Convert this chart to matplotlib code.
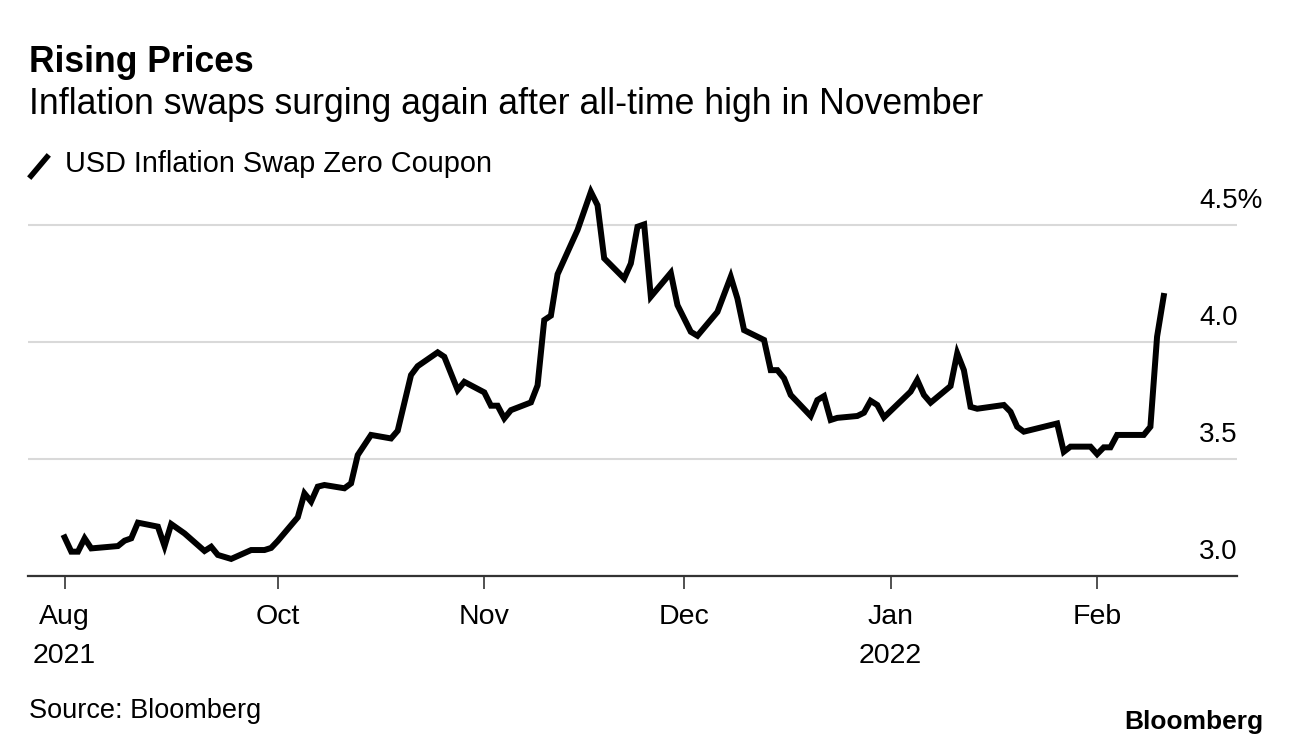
import matplotlib
matplotlib.use("Agg")
import matplotlib.pyplot as plt
from matplotlib.lines import Line2D
import pandas as pd

# USD inflation swap, zero coupon (%)
dates = [
    "2021-08-30", "2021-08-31",
    "2021-09-01", "2021-09-02", "2021-09-03", "2021-09-07", "2021-09-08",
    "2021-09-09", "2021-09-10", "2021-09-13", "2021-09-14", "2021-09-15",
    "2021-09-17", "2021-09-20", "2021-09-21", "2021-09-22", "2021-09-24",
    "2021-09-27", "2021-09-29", "2021-09-30",
    "2021-10-01", "2021-10-04", "2021-10-05", "2021-10-06", "2021-10-07",
    "2021-10-08", "2021-10-11", "2021-10-12", "2021-10-13", "2021-10-15",
    "2021-10-18", "2021-10-19", "2021-10-21", "2021-10-22", "2021-10-25",
    "2021-10-26", "2021-10-28", "2021-10-29",
    "2021-11-01", "2021-11-02", "2021-11-03", "2021-11-04", "2021-11-05",
    "2021-11-08", "2021-11-09", "2021-11-10", "2021-11-11", "2021-11-12",
    "2021-11-15", "2021-11-17", "2021-11-18", "2021-11-19", "2021-11-22",
    "2021-11-23", "2021-11-24", "2021-11-25", "2021-11-26", "2021-11-29",
    "2021-11-30",
    "2021-12-02", "2021-12-03", "2021-12-06", "2021-12-08", "2021-12-09",
    "2021-12-10", "2021-12-13", "2021-12-14", "2021-12-15", "2021-12-16",
    "2021-12-17", "2021-12-20", "2021-12-21", "2021-12-22", "2021-12-23",
    "2021-12-24", "2021-12-27", "2021-12-28", "2021-12-29", "2021-12-30",
    "2021-12-31",
    "2022-01-04", "2022-01-05", "2022-01-06", "2022-01-07", "2022-01-10",
    "2022-01-11", "2022-01-12", "2022-01-13", "2022-01-14", "2022-01-18",
    "2022-01-19", "2022-01-20", "2022-01-21", "2022-01-26", "2022-01-27",
    "2022-01-28", "2022-01-31",
    "2022-02-01", "2022-02-02", "2022-02-03", "2022-02-04", "2022-02-08",
    "2022-02-09", "2022-02-10", "2022-02-11",
]
values = [
    3.165, 3.104,
    3.104, 3.161, 3.118, 3.128, 3.151,
    3.161, 3.228, 3.211, 3.128, 3.222,
    3.182, 3.107, 3.125, 3.090, 3.073,
    3.111, 3.111, 3.120,
    3.150, 3.251, 3.353, 3.318, 3.382,
    3.389, 3.375, 3.396, 3.517, 3.603,
    3.588, 3.621, 3.859, 3.897, 3.956,
    3.937, 3.795, 3.830,
    3.785, 3.728, 3.728, 3.674, 3.709,
    3.742, 3.815, 4.094, 4.113, 4.290,
    4.479, 4.642, 4.585, 4.358, 4.272,
    4.336, 4.493, 4.503, 4.194, 4.296,
    4.158,
    4.044, 4.027, 4.129, 4.279, 4.186,
    4.051, 4.009, 3.880, 3.880, 3.845,
    3.774, 3.684, 3.752, 3.769, 3.667,
    3.676, 3.684, 3.698, 3.749, 3.731,
    3.678,
    3.788, 3.838, 3.774, 3.741, 3.812,
    3.952, 3.880, 3.723, 3.715, 3.731,
    3.702, 3.638, 3.617, 3.652, 3.531,
    3.553, 3.553,
    3.521, 3.550, 3.550, 3.603, 3.603,
    3.638, 4.023, 4.197,
]

xtick_dates = ["2021-08-30", "2021-10-01", "2021-11-01", "2021-12-01",
               "2022-01-01", "2022-02-01"]
xtick_labels = ["Aug\n2021", "Oct", "Nov", "Dec", "Jan\n2022", "Feb"]
ytick_vals = [3.0, 3.5, 4.0, 4.5]
ytick_labels = ["3.0", "3.5", "4.0", "4.5%"]

plt.rcParams['font.family'] = ['Liberation Sans', 'DejaVu Sans']

W, H = 1292, 748
fig = plt.figure(figsize=(W / 100, H / 100), dpi=100)
ax = fig.add_axes([28 / W, 172 / H, 1209 / W, 393 / H])

x = pd.to_datetime(dates)
ax.plot(x, values, color='black', lw=4.3, solid_joinstyle='miter', zorder=3)

t0 = pd.Timestamp("2021-10-01")
ax.set_xlim(t0 - pd.Timedelta(days=37.5), t0 + pd.Timedelta(days=144))
ax.set_ylim(3.0, 4.68)

# grid + right-side labels sitting above the lines
ax.set_yticks(ytick_vals)
ax.yaxis.grid(True, color='#d9d9d9', lw=1.5)
ax.tick_params(axis='y', left=False, labelleft=False)
for v, lab in zip(ytick_vals, ytick_labels):
    ax.annotate(lab, xy=(0.9686, v), xycoords=('axes fraction', 'data'),
                xytext=(0, 17), textcoords='offset points',
                ha='left', va='center', fontsize=20)

ax.set_xticks(pd.to_datetime(xtick_dates))
ax.set_xticklabels(xtick_labels, linespacing=1.65)
ax.tick_params(axis='x', length=9, width=1.2, color='#333333', pad=11,
               labelsize=20.5)

for s in ['top', 'left', 'right']:
    ax.spines[s].set_visible(False)
ax.spines['bottom'].set_color('#333333')
ax.spines['bottom'].set_linewidth(1.6)

fig.text(29 / W, 1 - 62 / H, "Rising Prices", fontsize=25.6,
         fontweight='bold', va='center')
fig.text(29 / W, 1 - 104 / H,
         "Inflation swaps surging again after all-time high in November",
         fontsize=25.7, va='center')

fig.add_artist(Line2D([31 / W, 47 / W], [1 - 176 / H, 1 - 157 / H],
                      transform=fig.transFigure, color='black', lw=4))
fig.text(65 / W, 1 - 164 / H, "USD Inflation Swap Zero Coupon",
         fontsize=20.8, va='center')

fig.text(29 / W, 1 - 711 / H, "Source: Bloomberg", fontsize=19.5,
         va='center')
fig.text(1263 / W, 1 - 722 / H, "Bloomberg", fontsize=19,
         fontweight='bold', va='center', ha='right')

fig.savefig("out.png", dpi=100)
